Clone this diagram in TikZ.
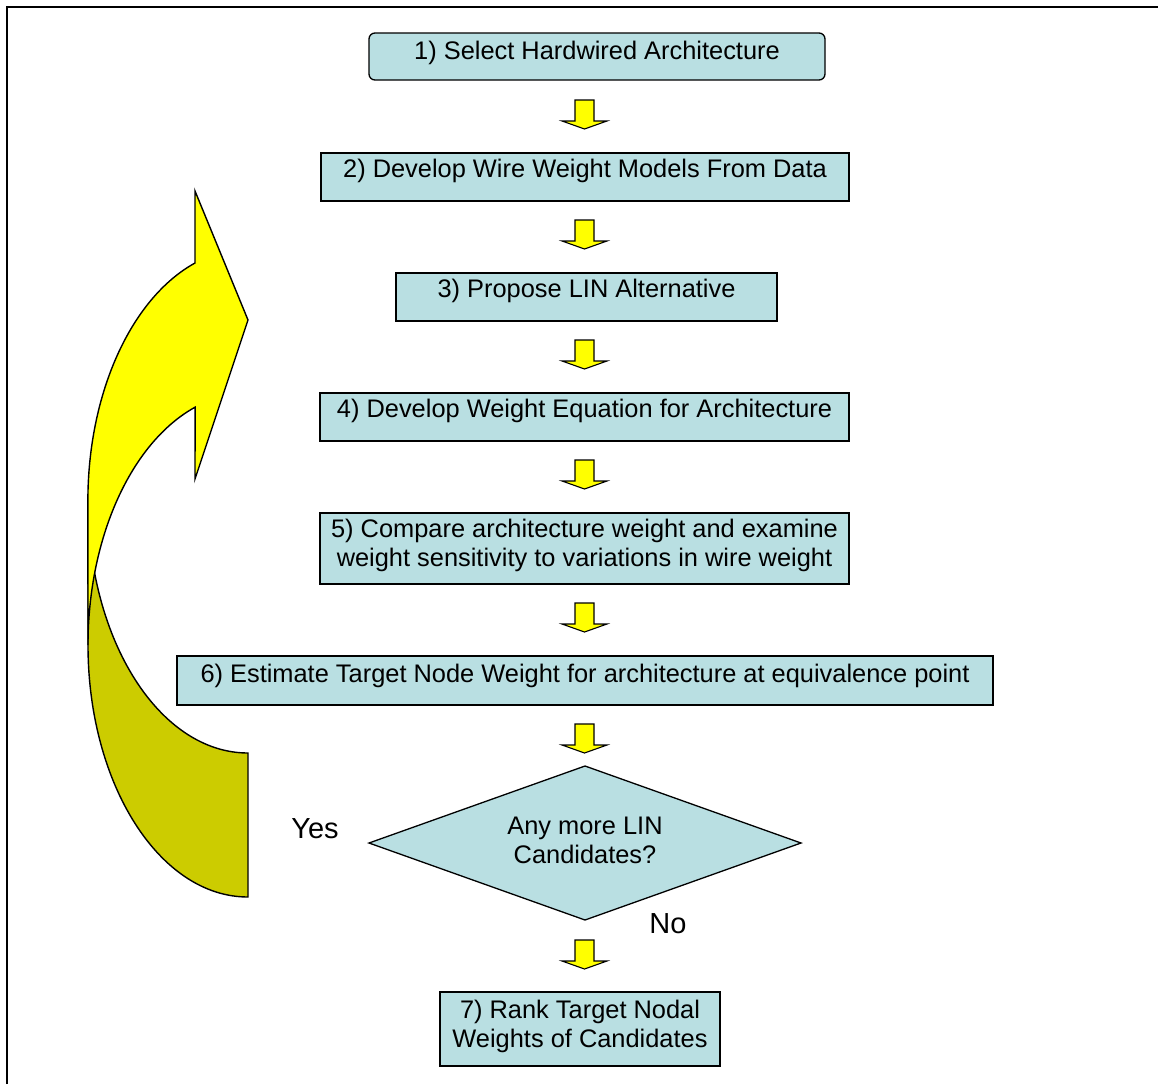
\documentclass[tikz,border=0pt]{standalone}
\usepackage{fontspec}
\setmainfont{Liberation Sans}
\begin{document}
\begin{tikzpicture}[x=1pt,y=-1pt,
  stepbox/.style={draw=black,line width=1.3pt,fill=boxfill,inner sep=0pt},
  txt/.style={font=\fontsize{25.4}{29}\selectfont,align=center,inner sep=0pt,anchor=base},
  lbl/.style={font=\fontsize{29}{33}\selectfont,inner sep=0pt,anchor=base},
  blockarrow/.style={draw=black,line width=1.1pt,fill=arrowyellow,line join=miter},
  bigarrow/.style={draw=black,line width=1.4pt,line join=miter}]
\definecolor{boxfill}{RGB}{185,223,226}
\definecolor{arrowyellow}{RGB}{255,255,0}
\definecolor{olive}{RGB}{204,204,0}
\useasboundingbox (0,0) rectangle (1158,1084);
% frame
\draw[line width=2pt] (7,1084) -- (7,7) -- (1158,7);

% process steps (text anchored on the baseline of its last line)
\node[stepbox,rounded corners=6pt,minimum width=456,minimum height=47] (s1) at (597,56.5) {};
\node[txt] (t1) at (597,59) {1) Select Hardwired Architecture};
\node[stepbox,minimum width=528,minimum height=48] (s2) at (585,177) {};
\node[txt] (t2) at (585,177) {2) Develop Wire Weight Models From Data};
\node[stepbox,minimum width=381,minimum height=48] (s3) at (586.5,297) {};
\node[txt] (t3) at (586.5,297) {3) Propose LIN Alternative};
\node[stepbox,minimum width=529,minimum height=48] (s4) at (584.5,417) {};
\node[txt] (t4) at (584.5,417) {4) Develop Weight Equation for Architecture};
\node[stepbox,minimum width=529,minimum height=71] (s5) at (584.5,548.5) {};
\node[txt] (t5) at (584.5,566) {5) Compare architecture weight and examine\\weight sensitivity to variations in wire weight};
\node[stepbox,minimum width=816,minimum height=49] (s6) at (585,680.5) {};
\node[txt] (t6) at (585,682) {6) Estimate Target Node Weight for architecture at equivalence point};

% decision
\filldraw[draw=black,line width=1.3pt,fill=boxfill] (369,843) -- (585,766) -- (801,843) -- (585,920) -- cycle;
\coordinate (dc) at (585,843);
\node[txt] (t7) at (585,863) {Any more LIN\\Candidates?};
\node[lbl] (yes) at (315,838) {Yes};
\node[lbl] (no) at (668,933) {No};

% final step
\node[stepbox,minimum width=280,minimum height=74] (s7) at (580,1029) {};
\node[txt] (t8) at (580,1047) {7) Rank Target Nodal\\Weights of Candidates};

% downward block arrows between the steps
\foreach \ya in {100,220,340,460,603,724,940}{
  \filldraw[blockarrow] (575,\ya) -- (594,\ya) -- (594,\ya+21) -- (607,\ya+21)
    -- (584.5,\ya+29) -- (562,\ya+21) -- (575,\ya+21) -- cycle;
}

% curved loop-back arrow: rear face first, then the front band with its head
\filldraw[bigarrow,fill=olive] (248,897)
   arc[start angle=90,end angle=180,x radius=160,y radius=252]
   -- (88,501)
   arc[start angle=180,end angle=90,x radius=160,y radius=252]
   -- cycle;
\filldraw[bigarrow,fill=arrowyellow] (88,645)
   arc[start angle=180,end angle=250.7,x radius=160,y radius=252]
   -- (195,479) -- (248,320) -- (195,191) -- (195,263)
   arc[start angle=250.7,end angle=180,x radius=160,y radius=252]
   -- cycle;
\end{tikzpicture}
\end{document}
